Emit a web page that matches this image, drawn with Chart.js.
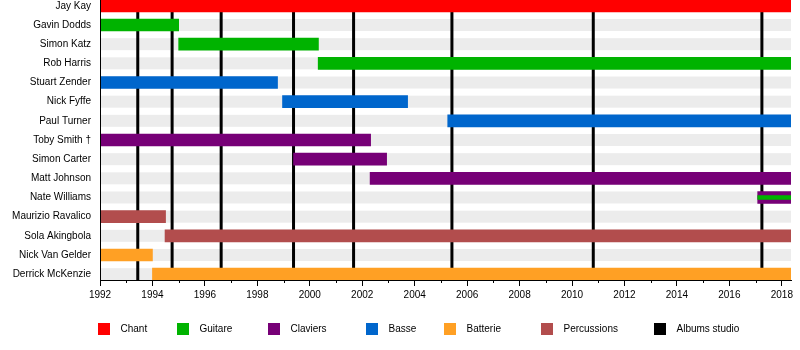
<!DOCTYPE html>
<html lang="fr">
<head>
<meta charset="utf-8">
<title>Jamiroquai – membres</title>
<script src="https://cdn.jsdelivr.net/npm/chart.js@4.4.1/dist/chart.umd.min.js"></script>
<style>
    html, body { margin: 0; padding: 0; background: #fff; }
    #wrap { width: 800px; height: 350px; }
</style>
</head>
<body>
<div id="wrap"><canvas id="timeline" width="800" height="350"></canvas></div>
<script>
(function() {
    'use strict';

    // Band members, top to bottom
    const members = [
        'Jay Kay', 'Gavin Dodds', 'Simon Katz', 'Rob Harris', 'Stuart Zender',
        'Nick Fyffe', 'Paul Turner', 'Toby Smith †', 'Simon Carter', 'Matt Johnson',
        'Nate Williams', 'Maurizio Ravalico', 'Sola Akingbola', 'Nick Van Gelder', 'Derrick McKenzie'
    ];

    const timelineStart = 1992;
    const timelineEnd = 2018.35;

    // One entry per span: who, which role, from, to
    const spanMember = [0, 1, 2, 3, 4, 5, 6, 7, 8, 9, 10, 10, 11, 12, 13, 14];
    const spanRole = ['Chant', 'Guitare', 'Guitare', 'Guitare', 'Basse', 'Basse', 'Basse',
        'Claviers', 'Claviers', 'Claviers', 'Claviers', 'GuitareStripe',
        'Percussions', 'Percussions', 'Batterie', 'Batterie'];
    const spanStart = [1992, 1992, 1995.0, 2000.32, 1992, 1998.96, 2005.26,
        1992, 1999.38, 2002.3, 2017.08, 2017.08, 1992, 1994.48, 1992, 1994.0];
    const spanEnd = [timelineEnd, 1995.0, 2000.33, timelineEnd, 1998.77, 2003.73, timelineEnd,
        2002.32, 2002.93, timelineEnd, timelineEnd, timelineEnd, 1994.5, timelineEnd, 1994.0, timelineEnd];

    // Studio album releases
    const albumDates = [1993.44, 1994.75, 1996.62, 1999.38, 2001.67, 2005.42, 2010.81, 2017.24];

    const roleNames = ['Chant', 'Guitare', 'Claviers', 'Basse', 'Batterie', 'Percussions'];
    const roleColors = ['#ff0000', '#00b300', '#770077', '#0066cc', '#ffa024', '#b24d4d'];

    const legendNames = roleNames.concat(['Albums studio']);
    const legendColors = roleColors.concat(['#000000']);
    const legendLeft = [98, 177, 268, 366, 444, 541, 654];

    const fontFamily = '"Liberation Sans", Arial, Helvetica, sans-serif';

    function spansFor(role) {
        const points = [];
        spanRole.forEach((r, i) => {
            if (r === role) {
                points.push({ x: [spanStart[i], spanEnd[i]], y: spanMember[i] });
            }
        });
        return points;
    }

    const datasets = roleNames.map((role, i) => ({
        label: role,
        data: spansFor(role),
        backgroundColor: roleColors[i],
        borderWidth: 0,
        barThickness: 12,
        grouped: false
    }));

    // thin guitar stripe across the keyboard bar (Nate Williams)
    datasets.push({
        label: 'Guitare (secondaire)',
        data: spansFor('GuitareStripe'),
        backgroundColor: roleColors[1],
        borderWidth: 0,
        barThickness: 4,
        grouped: false,
        order: -1
    });

    const timelinePlugin = {
        id: 'timelineDecor',
        beforeDatasetsDraw(chart) {
            const { ctx, chartArea, scales } = chart;
            ctx.save();
            // light stripe behind every row
            ctx.fillStyle = '#ececec';
            members.forEach((name, i) => {
                const cy = scales.y.getPixelForValue(i);
                ctx.fillRect(chartArea.left, cy - 6, chartArea.right - chartArea.left, 12);
            });
            // album release markers
            ctx.strokeStyle = '#000';
            ctx.lineWidth = 3;
            albumDates.forEach((d) => {
                const px = scales.x.getPixelForValue(d);
                ctx.beginPath();
                ctx.moveTo(px, chartArea.top);
                ctx.lineTo(px, chartArea.bottom);
                ctx.stroke();
            });
            ctx.restore();
        },
        afterDraw(chart) {
            const { ctx, chartArea, scales } = chart;
            ctx.save();
            // minor ticks on odd years
            ctx.strokeStyle = '#000';
            ctx.lineWidth = 1;
            for (let year = timelineStart + 1; year < timelineEnd; year += 2) {
                const px = Math.round(scales.x.getPixelForValue(year)) + 0.5;
                ctx.beginPath();
                ctx.moveTo(px, chartArea.bottom);
                ctx.lineTo(px, chartArea.bottom + 3);
                ctx.stroke();
            }
            // legend
            ctx.font = '10px ' + fontFamily;
            ctx.textBaseline = 'middle';
            ctx.textAlign = 'left';
            legendNames.forEach((name, i) => {
                ctx.fillStyle = legendColors[i];
                ctx.fillRect(legendLeft[i], 323, 12, 12);
                ctx.fillStyle = '#000';
                ctx.fillText(name, legendLeft[i] + 22.5, 329);
            });
            ctx.restore();
        }
    };

    new Chart(document.getElementById('timeline'), {
        type: 'bar',
        data: { datasets },
        options: {
            indexAxis: 'y',
            responsive: false,
            animation: false,
            layout: { padding: { top: 0, right: 9, bottom: 0, left: 0 } },
            plugins: {
                legend: { display: false },
                tooltip: { enabled: false }
            },
            scales: {
                x: {
                    type: 'linear',
                    min: timelineStart,
                    max: timelineEnd,
                    grid: { drawOnChartArea: false, drawTicks: true, tickLength: 6, color: '#000' },
                    border: { display: true, color: '#000', width: 1, z: 1 },
                    ticks: {
                        stepSize: 2,
                        includeBounds: false,
                        padding: 3,
                        color: '#000',
                        font: { family: fontFamily, size: 10 },
                        callback: (v) => String(v)
                    },
                    afterFit(scale) { scale.height = 70; }
                },
                y: {
                    type: 'linear',
                    reverse: true,
                    offset: false,
                    min: -0.305,
                    max: 14.305,
                    grid: { display: false, drawTicks: false },
                    border: { display: true, color: '#000', width: 1, z: 1 },
                    ticks: {
                        stepSize: 1,
                        includeBounds: false,
                        autoSkip: false,
                        padding: 9,
                        color: '#000',
                        font: { family: fontFamily, size: 10 },
                        callback: (v) => members[v]
                    },
                    afterFit(scale) {
                        scale.width = 100;
                        scale.paddingTop = 0;
                        scale.paddingBottom = 0;
                    }
                }
            }
        },
        plugins: [timelinePlugin]
    });
})();
</script>
</body>
</html>
